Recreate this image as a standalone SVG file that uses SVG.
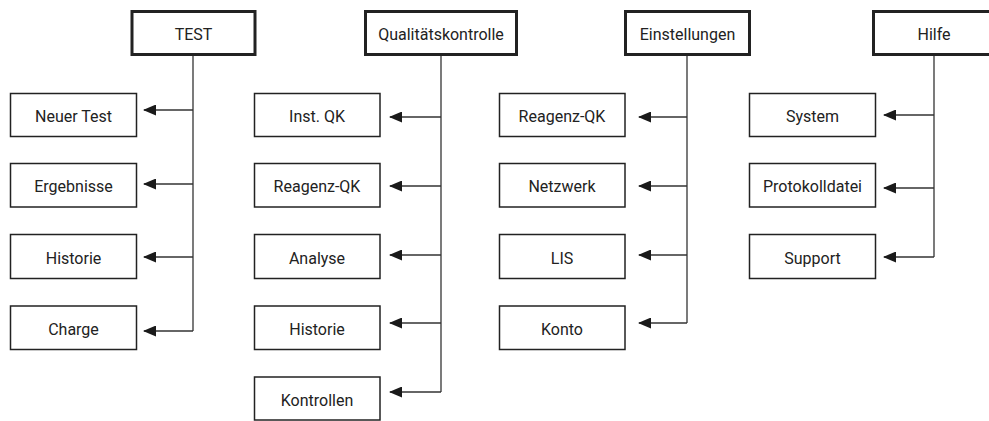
<svg xmlns="http://www.w3.org/2000/svg" width="989" height="421" viewBox="0 0 989 421">
  <style>
    .hdr rect { fill: #fff; stroke: #222; stroke-width: 3; }
    .nd rect { fill: #fff; stroke: #222; stroke-width: 1.5; }
    text { font-family: Roboto, "Liberation Sans", sans-serif; font-size: 16px; fill: #222; text-anchor: middle; }
    .conn path { fill: none; stroke: #333; stroke-width: 1.3; }
    .conn .h { marker-end: url(#ah); }
  </style>
  <defs>
    <marker id="ah" viewBox="0 0 13 11" refX="12" refY="5.5" markerWidth="13" markerHeight="11" markerUnits="userSpaceOnUse" orient="auto">
      <path d="M0,0 L13,5.5 L0,11 Z" fill="#1a1a1a"/>
    </marker>
  </defs>
  <rect width="989" height="421" fill="#fff"/>

  <g class="conn" id="connectors">
    <path d="M193,56 V331"/>
    <path class="h" d="M193,110 H144"/>
    <path class="h" d="M193,184 H144"/>
    <path class="h" d="M193,257 H144"/>
    <path class="h" d="M193,331 H144"/>

    <path d="M441,56 V392"/>
    <path class="h" d="M441,117 H390"/>
    <path class="h" d="M441,186 H390"/>
    <path class="h" d="M441,255 H390"/>
    <path class="h" d="M441,323 H390"/>
    <path class="h" d="M441,392 H390"/>

    <path d="M687,56 V323"/>
    <path class="h" d="M687,117 H639"/>
    <path class="h" d="M687,186 H639"/>
    <path class="h" d="M687,255 H639"/>
    <path class="h" d="M687,323 H639"/>

    <path d="M934,56 V257"/>
    <path class="h" d="M934,115 H884"/>
    <path class="h" d="M934,188 H884"/>
    <path class="h" d="M934,257 H884"/>
  </g>

  <g class="hdr" id="n-test"><rect x="132" y="11.5" width="123" height="43"/><text x="193.5" y="40">TEST</text></g>
  <g class="hdr" id="n-qk"><rect x="365.5" y="11.5" width="151" height="43"/><text x="441" y="40">Qualitätskontrolle</text></g>
  <g class="hdr" id="n-einst"><rect x="625.5" y="11.5" width="124" height="43"/><text x="687.5" y="40">Einstellungen</text></g>
  <g class="hdr" id="n-hilfe"><rect x="873.5" y="11.5" width="121" height="43"/><text x="934" y="40">Hilfe</text></g>

  <g class="nd" id="n-neuer-test"><rect x="10.5" y="93.5" width="126" height="43"/><text x="73.5" y="122">Neuer Test</text></g>
  <g class="nd" id="n-ergebnisse"><rect x="10.5" y="163.5" width="126" height="43.5"/><text x="73.5" y="192">Ergebnisse</text></g>
  <g class="nd" id="n-historie1"><rect x="10.5" y="234.5" width="126" height="44"/><text x="73.5" y="263.5">Historie</text></g>
  <g class="nd" id="n-charge"><rect x="10.5" y="306" width="126" height="43.5"/><text x="73.5" y="335">Charge</text></g>

  <g class="nd" id="n-instqk"><rect x="254.5" y="93.5" width="125.5" height="43"/><text x="317" y="122">Inst. QK</text></g>
  <g class="nd" id="n-reagenzqk1"><rect x="254.5" y="163.5" width="125.5" height="43.5"/><text x="317" y="192">Reagenz-QK</text></g>
  <g class="nd" id="n-analyse"><rect x="254.5" y="234.5" width="125.5" height="44"/><text x="317" y="263.5">Analyse</text></g>
  <g class="nd" id="n-historie2"><rect x="254.5" y="306" width="125.5" height="43.5"/><text x="317" y="335">Historie</text></g>
  <g class="nd" id="n-kontrollen"><rect x="254.5" y="377" width="125.5" height="43"/><text x="317" y="406">Kontrollen</text></g>

  <g class="nd" id="n-reagenzqk2"><rect x="499.5" y="93.5" width="125.5" height="43"/><text x="562" y="122">Reagenz-QK</text></g>
  <g class="nd" id="n-netzwerk"><rect x="499.5" y="163.5" width="125.5" height="43.5"/><text x="562" y="192">Netzwerk</text></g>
  <g class="nd" id="n-lis"><rect x="499.5" y="234.5" width="125.5" height="44"/><text x="562" y="263.5">LIS</text></g>
  <g class="nd" id="n-konto"><rect x="499.5" y="306" width="125.5" height="43.5"/><text x="562" y="335">Konto</text></g>

  <g class="nd" id="n-system"><rect x="749.5" y="93.5" width="126" height="43"/><text x="812.5" y="122">System</text></g>
  <g class="nd" id="n-protokoll"><rect x="749.5" y="163.5" width="126" height="43.5"/><text x="812.5" y="192">Protokolldatei</text></g>
  <g class="nd" id="n-support"><rect x="749.5" y="234.5" width="126" height="44"/><text x="812.5" y="263.5">Support</text></g>
</svg>
